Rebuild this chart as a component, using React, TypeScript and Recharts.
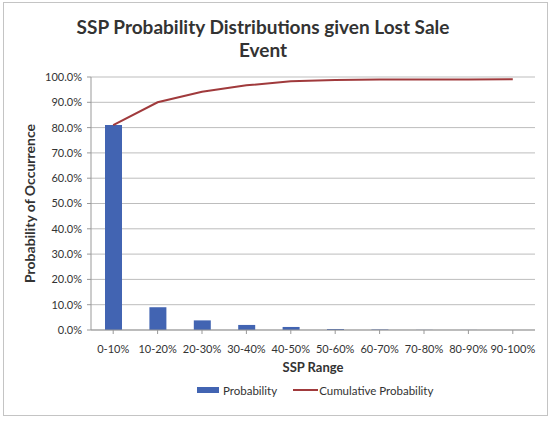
import React from "react";
import {
  ComposedChart,
  Bar,
  Line,
  XAxis,
  YAxis,
  CartesianGrid,
  Legend,
} from "recharts";

const categories = [
  "0-10%",
  "10-20%",
  "20-30%",
  "30-40%",
  "40-50%",
  "50-60%",
  "60-70%",
  "70-80%",
  "80-90%",
  "90-100%",
];
const probability = [81.0, 9.0, 3.8, 2.0, 1.2, 0.4, 0.2, 0.05, 0.03, 0.02];
const cumulative = [81.0, 90.0, 94.2, 96.7, 98.3, 98.8, 99.0, 99.0, 99.0, 99.1];
const yTicks = [0, 10, 20, 30, 40, 50, 60, 70, 80, 90, 100];

const data = categories.map((c, i) => ({
  range: c,
  prob: probability[i],
  cum: cumulative[i],
}));

const FONT = "Lato, 'Open Sans', sans-serif";
const BAR = "#4264B2";
const LINE = "#A03A3C";

const LegendContent = () => (
  <div
    style={{
      display: "flex",
      alignItems: "center",
      paddingLeft: 193,
      fontFamily: FONT,
      fontSize: 11.5,
      color: "#333",
      height: 20,
    }}
  >
    <span style={{ display: "inline-block", width: 22, height: 6, background: BAR, marginRight: 4 }} />
    <span style={{ marginRight: 16 }}>Probability</span>
    <span style={{ display: "inline-block", width: 25, height: 2, background: LINE, marginRight: 1 }} />
    <span>Cumulative Probability</span>
  </div>
);

export default function App() {
  return (
    <div
      style={{
        position: "absolute",
        left: 3,
        top: 2,
        width: 545,
        height: 414,
        border: "1px solid #c4c4c4",
        boxSizing: "border-box",
        background: "#fff",
        fontFamily: FONT,
      }}
    >
      <div
        style={{
          position: "absolute",
          left: 0,
          top: 12,
          width: 518,
          textAlign: "center",
          fontWeight: 700,
          fontSize: 19,
          lineHeight: "23px",
          color: "#333",
        }}
      >
        SSP Probability Distributions given Lost Sale
        <br />
        Event
      </div>
      <ComposedChart
        width={545}
        height={414}
        data={data}
        margin={{ top: 74, right: 14, left: 0, bottom: 17 }}
      >
        <CartesianGrid vertical={false} stroke="#bdbdbd" />
        <XAxis
          dataKey="range"
          height={50}
          tickSize={4}
          tickMargin={11}
          interval={0}
          stroke="#999"
          tick={{ fill: "#333", fontSize: 11, fontFamily: FONT }}
          label={{
            value: "SSP Range",
            position: "insideBottom",
            offset: 8,
            style: { fill: "#333", fontSize: 13, fontWeight: 700, fontFamily: FONT },
          }}
        />
        <YAxis
          width={87}
          domain={[0, 100]}
          ticks={yTicks}
          tickSize={4}
          tickMargin={5}
          stroke="#999"
          tickFormatter={(v: number) => `${v.toFixed(1)}%`}
          tick={{ fill: "#333", fontSize: 11, fontFamily: FONT }}
          label={{
            value: "Probability of Occurrence",
            angle: -90,
            position: "insideLeft",
            offset: 26,
            style: {
              fill: "#333",
              fontSize: 14,
              fontWeight: 700,
              fontFamily: FONT,
              textAnchor: "middle",
            },
          }}
        />
        <Legend verticalAlign="bottom" content={<LegendContent />} wrapperStyle={{ left: 0, width: 545 }} />
        <Bar dataKey="prob" name="Probability" fill={BAR} barSize={17} isAnimationActive={false} />
        <Line
          dataKey="cum"
          name="Cumulative Probability"
          stroke={LINE}
          strokeWidth={2}
          dot={false}
          type="linear"
          isAnimationActive={false}
        />
      </ComposedChart>
    </div>
  );
}
